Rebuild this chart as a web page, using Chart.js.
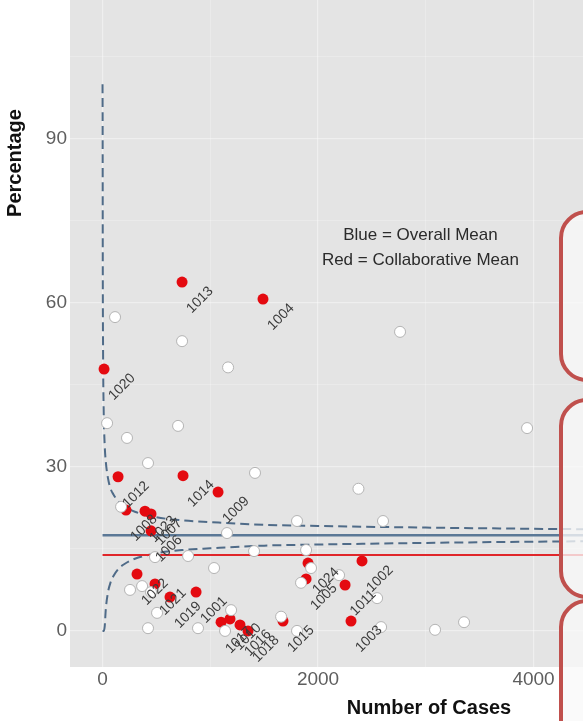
<!DOCTYPE html>
<html>
<head>
<meta charset="utf-8">
<script src="https://cdn.jsdelivr.net/npm/chart.js@4"></script>
<style>
  body { margin: 0; background: #fff; }
  canvas { display: block; }
</style>
</head>
<body>
<canvas id="myChart" width="583" height="721"></canvas>
<script>
// collaborative sites (red, labelled)
let collabIds = ["1013", "1004", "1020", "1012", "1014", "1009", "1008", "1023", "1007", "1006", "1022", "1021",
  "1019", "1001", "1017", "1010", "1016", "1018", "1015", "1003", "1024", "1005", "1011", "1002"];
let collabCases = [738, 1489, 14, 144, 747, 1072, 218, 394, 450, 450, 320, 487,
  626, 868, 1100, 1183, 1276, 1350, 1675, 2306, 1907, 1889, 2251, 2408];
let collabPct = [63.8, 60.7, 47.9, 28.2, 28.4, 25.4, 22.1, 21.9, 21.4, 18.3, 10.4, 8.6,
  6.2, 7.1, 1.6, 2.2, 1.1, 0, 1.8, 1.8, 12.4, 9.5, 8.4, 12.8];

// all other sites (white)
let otherCases = [116, 738, 1165, 2761, 42, 701, 227, 3940, 422, 1415, 2375, 172, 1805, 2603, 1155, 1406, 1889,
  487, 794, 1935, 1035, 2195, 1842, 367, 255, 450, 2548, 506, 1193, 1657, 422, 886, 1137, 1805, 2585, 3086, 3355];
let otherPct = [57.4, 53.0, 48.2, 54.7, 38.0, 37.5, 35.3, 37.1, 30.7, 28.9, 26.0, 22.7, 20.1, 20.1, 17.9, 14.6, 14.8,
  13.5, 13.7, 11.5, 11.5, 10.2, 8.8, 8.2, 7.5, 7.1, 6.0, 3.3, 3.8, 2.6, 0.5, 0.5, 0, 0, 0.7, 0.2, 1.6];

// means
let overallMean = 17.5;
let collabMean = 13.9;

// funnel limits
let funnelCases = [0, 1, 2, 5, 10, 20, 30, 50, 75, 100, 150, 200, 300, 500, 750, 1000, 1500, 2000, 3000, 4500, 6000];
let funnelUpper = [100, 92, 70, 51, 41, 34, 31, 28, 26, 25, 23.6, 22.8, 21.8, 20.8, 20.2, 19.9, 19.4, 19.2, 18.9, 18.6, 18.5];
let funnelLower = [0, 0, 0, 0, 0, 0.8, 3.9, 7, 8.9, 10, 11.4, 12.2, 13.2, 14.2, 14.8, 15.1, 15.6, 15.8, 16.1, 16.4, 16.5];

// axis ticks
let xTicks = [0, 2000, 4000];
let xMinorTicks = [1000, 3000];
let yTicks = [0, 30, 60, 90];
let yMinorTicks = [15, 45, 75, 105];

let noteLines = ["Blue = Overall Mean", "Red = Collaborative Mean"];

const FONT = "'Liberation Sans', Arial, sans-serif";

function toPoints(xs, ys) {
  return xs.map((x, i) => ({ x: x, y: ys[i] }));
}

function noPadding(s) {
  s.paddingTop = 0;
  s.paddingBottom = 0;
  s.paddingLeft = 0;
  s.paddingRight = 0;
}

let lastCase = funnelCases[funnelCases.length - 1];

let overlay = {
  id: "overlay",
  beforeDraw(chart) {
    let a = chart.chartArea;
    let ctx = chart.ctx;
    ctx.save();
    ctx.fillStyle = "#e4e4e4";
    ctx.fillRect(a.left, a.top, a.right - a.left, a.bottom - a.top);
    ctx.restore();
  },
  afterDatasetsDraw(chart) {
    // site labels, rotated
    let ctx = chart.ctx;
    let meta = chart.getDatasetMeta(1);
    ctx.save();
    ctx.font = "14px " + FONT;
    ctx.fillStyle = "#3a3a3a";
    ctx.textAlign = "center";
    ctx.textBaseline = "middle";
    meta.data.forEach((pt, i) => {
      ctx.save();
      ctx.translate(pt.x + 18, pt.y + 18);
      ctx.rotate(-Math.PI / 4);
      ctx.fillText(collabIds[i], 0, 0);
      ctx.restore();
    });
    ctx.restore();
  },
  afterDraw(chart) {
    let ctx = chart.ctx;
    let xs = chart.scales.x;
    let ys = chart.scales.y;
    ctx.save();

    // note text
    ctx.font = "17px " + FONT;
    ctx.fillStyle = "#2b2b2b";
    ctx.textAlign = "center";
    ctx.textBaseline = "middle";
    ctx.fillText(noteLines[0], xs.getPixelForValue(2950), ys.getPixelForValue(72.4));
    ctx.fillText(noteLines[1], xs.getPixelForValue(2950), ys.getPixelForValue(67.7));

    // axis titles
    ctx.font = "bold 20px " + FONT;
    ctx.fillStyle = "#111";
    ctx.fillText("Number of Cases", 429, 708);
    ctx.save();
    ctx.translate(15, 163);
    ctx.rotate(-Math.PI / 2);
    ctx.fillText("Percentage", 0, 0);
    ctx.restore();

    // slide callout boxes on the right
    ctx.lineWidth = 4;
    ctx.strokeStyle = "#c0504d";
    ctx.fillStyle = "rgba(248,248,248,0.78)";
    [[212, 380], [400, 597], [601, 800]].forEach(b => {
      ctx.beginPath();
      ctx.roundRect(561, b[0], 200, b[1] - b[0], 26);
      ctx.fill();
      ctx.stroke();
    });
    ctx.restore();
  }
};

new Chart(document.getElementById("myChart"), {
  type: "scatter",
  data: {
    datasets: [
      {
        label: "Other",
        data: toPoints(otherCases, otherPct),
        backgroundColor: "#ffffff",
        borderColor: "#b4b4b4",
        borderWidth: 1,
        pointRadius: 5.5,
      },
      {
        label: "Collaborative",
        data: toPoints(collabCases, collabPct),
        backgroundColor: "#e40a10",
        borderColor: "#e40a10",
        borderWidth: 0,
        pointRadius: 5.5,
      },
      {
        label: "Collaborative Mean",
        data: [{ x: 0, y: collabMean }, { x: lastCase, y: collabMean }],
        showLine: true,
        borderColor: "#e0262a",
        borderWidth: 2,
        pointRadius: 0,
      },
      {
        label: "Overall Mean",
        data: [{ x: 0, y: overallMean }, { x: lastCase, y: overallMean }],
        showLine: true,
        borderColor: "#5b7896",
        borderWidth: 2.5,
        pointRadius: 0,
      },
      {
        label: "Upper",
        data: toPoints(funnelCases, funnelUpper),
        showLine: true,
        borderColor: "#4f6b88",
        borderWidth: 2,
        borderDash: [9, 5],
        cubicInterpolationMode: "monotone",
        pointRadius: 0,
      },
      {
        label: "Lower",
        data: toPoints(funnelCases, funnelLower),
        showLine: true,
        borderColor: "#4f6b88",
        borderWidth: 2,
        borderDash: [9, 5],
        cubicInterpolationMode: "monotone",
        pointRadius: 0,
      },
    ],
  },
  options: {
    responsive: false,
    animation: false,
    layout: { padding: 0, autoPadding: false },
    plugins: {
      legend: { display: false },
      tooltip: { enabled: false },
    },
    scales: {
      x: {
        type: "linear",
        min: -302,
        max: 4459,
        afterFit: s => { s.height = 54; noPadding(s); },
        afterBuildTicks: s => {
          s.ticks = xTicks.concat(xMinorTicks).sort((a, b) => a - b).map(v => ({ value: v }));
        },
        border: { display: false },
        grid: {
          drawTicks: false,
          color: "rgba(255,255,255,0.4)",
          lineWidth: c => (c.tick && xMinorTicks.includes(c.tick.value) ? 0.6 : 1.2),
        },
        ticks: {
          padding: 1,
          autoSkip: false,
          maxRotation: 0,
          color: "#5e5e5e",
          font: { family: FONT, size: 19 },
          callback: v => (xTicks.includes(v) ? String(v) : ""),
        },
      },
      y: {
        type: "linear",
        min: -6.6,
        max: 115.4,
        afterFit: s => { s.width = 70; noPadding(s); },
        afterBuildTicks: s => {
          s.ticks = yTicks.concat(yMinorTicks).sort((a, b) => a - b).map(v => ({ value: v }));
        },
        border: { display: false },
        grid: {
          drawTicks: false,
          color: "rgba(255,255,255,0.4)",
          lineWidth: c => (c.tick && yMinorTicks.includes(c.tick.value) ? 0.6 : 1.2),
        },
        ticks: {
          padding: 3,
          autoSkip: false,
          color: "#5e5e5e",
          font: { family: FONT, size: 19 },
          callback: v => (yTicks.includes(v) ? String(v) : ""),
        },
      },
    },
  },
  plugins: [overlay],
});
</script>
</body>
</html>
